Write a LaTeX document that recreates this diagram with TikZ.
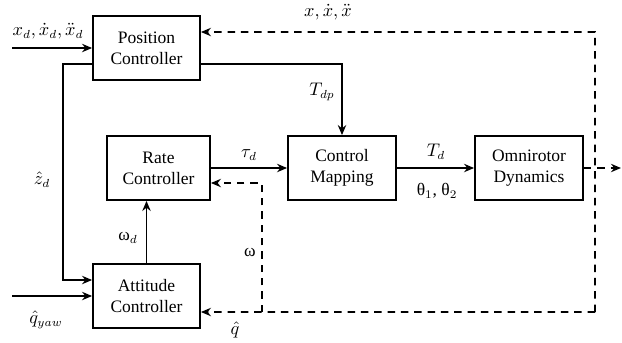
\documentclass[tikz,border=0pt]{standalone}
\usepackage{amsmath,amssymb}
\usepackage{fontspec}
\setmainfont{Liberation Serif}
\usepackage{tikz}
\usetikzlibrary{calc}
\usetikzlibrary{arrows.meta}
\tikzset{
  blockbox/.style={draw,line width=1.1pt,minimum height=38.4pt,align=center,inner sep=1pt,font=\fontsize{10.5}{12.6}\selectfont},
  sig/.style={line width=1.1pt,-{Stealth[length=6pt,width=5pt]}},
  fbsig/.style={sig,dash pattern=on 4.5pt off 3.5pt},
  lbl/.style={inner sep=1pt,font=\fontsize{10.5}{12.6}\selectfont}
}
\newcommand{\block}[5]{\node[blockbox,minimum width=#4] (#1) at ( #2 , #3 ) {#5};}
\newcommand{\lablsig}[4]{\node[lbl] (#1) at ( #2 , #3 ) {#4};}

\begin{document}
\begin{tikzpicture}[x=0.6pt,y=-0.6pt]
\useasboundingbox (0,0) rectangle (622,342);
% blocks
\block{pos}{146.5}{48}{64.2pt}{Position\\Controller}
\block{rate}{158.5}{168}{61.8pt}{Rate\\Controller}
\block{map}{342}{168}{64.8pt}{Control\\Mapping}
\block{omni}{529}{168}{64.8pt}{Omnirotor\\Dynamics}
\block{att}{146.5}{296}{64.2pt}{Attitude\\Controller}
% free ends
\coordinate (inpos) at (12,48);
\coordinate (inatt) at (12,296);
\coordinate (out) at (621,168);
\coordinate (fbtop) at (595,32);
\coordinate (fbbot) at (595,312);
\coordinate (fbsplit) at (262,312);
% forward path
\draw[sig] (inpos) -- (pos.west);
\draw[sig] (inatt) -- (att.west);
\draw[sig] ([yshift=-9.6pt]pos.east) -| (map.north);
\draw[sig] ([yshift=-9.6pt]pos.west) -- ++(-29,0) |- ([yshift=9.6pt]att.west);
\draw[sig] (att.north) -- (att.north |- rate.south);
\draw[sig] (rate.east) -- (map.west);
\draw[sig] (map.east) -- (omni.west);
\draw[fbsig] (omni.east) -- (out);
% feedback
\draw[fbsig] (fbbot) -- (fbtop) -- ([yshift=9.6pt]pos.east);
\draw[fbsig] (fbbot) -- ([yshift=-9.6pt]att.east);
\draw[fbsig] (fbsplit) |- ([yshift=-9pt]rate.east);
% labels
\lablsig{lxd}{48}{31}{$x_d,\dot{x}_d,\ddot{x}_d$}
\lablsig{lx}{328}{12}{$x,\dot{x},\ddot{x}$}
\lablsig{ltdp}{322}{92}{$T_{dp}$}
\lablsig{lzd}{42}{180}{$\hat{z}_d$}
\lablsig{ltau}{249}{155}{$\tau_d$}
\lablsig{ltd}{436}{152}{$T_d$}
\lablsig{lth}{437}{191}{θ$_1$, θ$_2$}
\lablsig{lwd}{128}{238}{ω$_d$}
\lablsig{lw}{250}{252}{ω}
\lablsig{lq}{235}{330}{$\hat{q}$}
\lablsig{lqyaw}{46}{320}{$\hat{q}_{yaw}$}
\end{tikzpicture}
\end{document}
